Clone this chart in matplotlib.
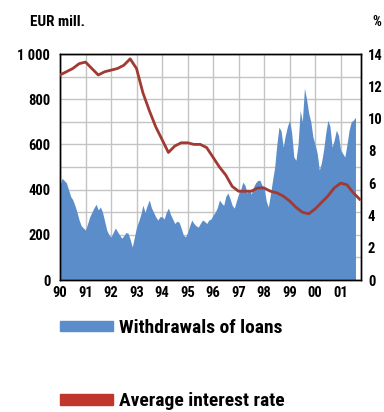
import numpy as np
import matplotlib
matplotlib.use("Agg")
import matplotlib.pyplot as plt
from matplotlib.patches import Patch

plt.rcParams['font.family'] = ['Roboto Condensed', 'DejaVu Sans']
plt.rcParams['font.weight'] = 'bold'

# monthly withdrawals of loans, EUR mill., from Jan 1990
withdrawals = [
    420, 450, 440, 430, 400, 370, 355, 330, 300, 265, 240, 230,   # 1990
    221, 250, 280, 300, 320, 335, 310, 323, 300, 260, 221, 200,   # 1991
    190, 210, 230, 215, 200, 185, 195, 210, 207, 180, 146, 190,   # 1992
    234, 260, 290, 331, 300, 330, 354, 320, 300, 280, 265, 280,   # 1993
    280, 270, 300, 318, 290, 270, 250, 260, 256, 230, 200, 190,   # 1994
    210, 240, 265, 250, 240, 234, 250, 265, 260, 250, 265, 270,   # 1995
    287, 300, 320, 354, 340, 330, 370, 385, 360, 330, 318, 350,   # 1996
    380, 400, 433, 420, 385, 400, 380, 411, 430, 440, 442, 420,   # 1997
    411, 350, 323, 380, 442, 500, 600, 676, 660, 588, 640, 680,   # 1998
    707, 650, 544, 530, 600, 751, 700, 849, 800, 738, 700, 632,   # 1999
    600, 560, 486, 520, 575, 650, 707, 680, 588, 620, 663, 640,   # 2000
    575, 560, 544, 600, 663, 700, 707, 720,                       # 2001
]

# quarterly average interest rate, %, from Q1 1990
interest = [
    12.7, 12.9, 13.1, 13.4,
    13.5, 13.1, 12.7, 12.9,
    13.0, 13.1, 13.3, 13.7,
    13.1, 11.6, 10.5, 9.5,
    8.7, 7.9, 8.3, 8.5,
    8.5, 8.4, 8.4, 8.2,
    7.6, 7.0, 6.5, 5.8,
    5.5, 5.5, 5.5, 5.7,
    5.7, 5.5, 5.4, 5.2,
    4.9, 4.5, 4.2, 4.1,
    4.4, 4.8, 5.2, 5.7,
    6.0, 5.9, 5.4, 5.0,
]

years = list(range(1990, 2002))
year_labels = ['90', '91', '92', '93', '94', '95', '96', '97', '98', '99', '00', '01']

t_w = 1990 + np.arange(len(withdrawals)) / 12.0
t_i = 1990 + np.arange(len(interest)) / 4.0

blue = '#5b8dcb'
red = '#a03a32'

fig = plt.figure(figsize=(3.84, 4.12), dpi=100)
ax = fig.add_axes([60/384, 1-280/412, 301/384, 226/412])

ax.fill_between(t_w, withdrawals, 0, color=blue, lw=0, zorder=2)
ax.set_xlim(1990, 2001.8)
ax.set_ylim(0, 1000)
ax.set_yticks([0, 200, 400, 600, 800, 1000])
ax.set_yticklabels(['0', '200', '400', '600', '800', '1 000'])
ax.set_yticks(np.arange(0, 1001, 100), minor=True)
ax.set_xticks(years)
ax.set_xticklabels(year_labels)
ax.grid(True, which='both', color='#c4c4c4', lw=1.0, zorder=0)
ax.set_axisbelow(True)
ax.tick_params(axis='y', which='both', length=0, labelsize=10.5, pad=7)
ax.tick_params(axis='x', length=0, labelsize=10.5, pad=4)

ax2 = ax.twinx()
ax2.plot(t_i, interest, color=red, lw=2.0, zorder=3)
ax2.set_ylim(0, 14)
ax2.set_yticks(range(0, 15, 2))
ax2.tick_params(axis='y', length=0, labelsize=10.5, pad=5)
for a in (ax, ax2):
    for s in a.spines.values():
        s.set_color('black')
        s.set_linewidth(1.0)

fig.text(30/384, 1-22/412, 'EUR mill.', fontsize=11, fontweight='bold', va='center')
fig.text(372/384, 1-22/412, '%', fontsize=10, fontweight='bold', va='center')

handles = [Patch(color=blue), Patch(color='#c0352c')]
fig.legend(handles, ['Withdrawals of loans', 'Average interest rate'],
           loc='upper left', bbox_to_anchor=(60/384, 1-319/412),
           frameon=False, fontsize=14, handlelength=2.7, handleheight=0.45,
           handletextpad=0.35, labelspacing=2.85, borderpad=0, borderaxespad=0)

fig.savefig('out.png', dpi=100)
